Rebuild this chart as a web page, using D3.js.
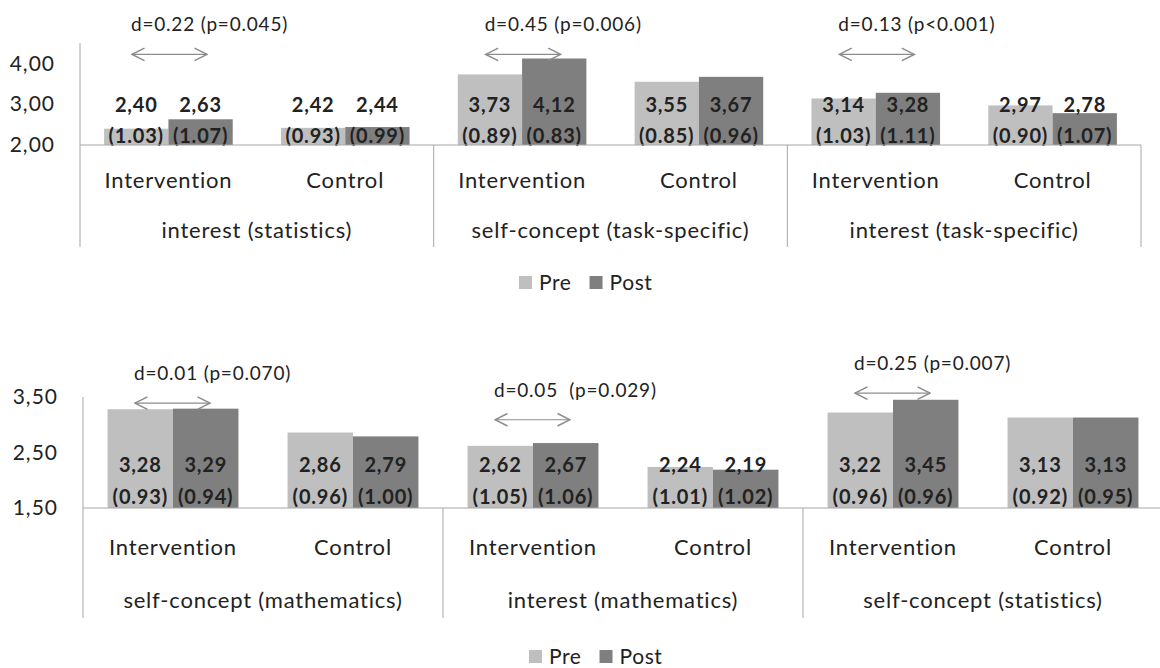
<!DOCTYPE html>
<html lang="en">
<head>
<meta charset="utf-8">
<title>Pre / Post means by condition</title>
<script src="https://cdn.jsdelivr.net/npm/d3@7"></script>
<style>
  body { margin: 0; background: #fff; }
  svg text { font-family: Lato, "Open Sans", sans-serif; fill: #222; }
</style>
</head>
<body>
<script>
// categories
var conditions = ['Intervention', 'Control'];
var series = ['Pre', 'Post'];
var groupsTop = ['interest (statistics)', 'self-concept (task-specific)', 'interest (task-specific)'];
var groupsBottom = ['self-concept (mathematics)', 'interest (mathematics)', 'self-concept (statistics)'];

// means and SDs, order: group1 Intervention, group1 Control, group2 Intervention, ...
var preTop = [2.40, 2.42, 3.73, 3.55, 3.14, 2.97];
var postTop = [2.63, 2.44, 4.12, 3.67, 3.28, 2.78];
var preSdTop = [1.03, 0.93, 0.89, 0.85, 1.03, 0.90];
var postSdTop = [1.07, 0.99, 0.83, 0.96, 1.11, 1.07];

var preBottom = [3.28, 2.86, 2.62, 2.24, 3.22, 3.13];
var postBottom = [3.29, 2.79, 2.67, 2.19, 3.45, 3.13];
var preSdBottom = [0.93, 0.96, 1.05, 1.01, 0.96, 0.92];
var postSdBottom = [0.94, 1.00, 1.06, 1.02, 0.96, 0.95];

// effect sizes (Intervention) and the value level where the arrow sits
var effectsTop = ['d=0.22 (p=0.045)', 'd=0.45 (p=0.006)', 'd=0.13 (p<0.001)'];
var effectsBottom = ['d=0.01 (p=0.070)', 'd=0.05  (p=0.029)', 'd=0.25 (p=0.007)'];
var arrowLevelTop = [4.22, 4.22, 4.22];
var arrowLevelBottom = [3.39, 3.09, 3.57];

var ticksTop = [2, 3, 4];
var ticksBottom = [1.5, 2.5, 3.5];

var colors = { Pre: '#bfbfbf', Post: '#7f7f7f' };
var axisColor = '#a6a6a6';

var w = 1160, h = 668;

var svg = d3.select('body').append('svg')
    .attr('width', w)
    .attr('height', h);

var defs = svg.append('defs');
['start', 'end'].forEach(function(k) {
    defs.append('marker')
        .attr('id', 'arr-' + k)
        .attr('viewBox', '0 0 12 12')
        .attr('refX', 11)
        .attr('refY', 6)
        .attr('markerWidth', 15)
        .attr('markerHeight', 15)
        .attr('markerUnits', 'userSpaceOnUse')
        .attr('orient', 'auto-start-reverse')
        .append('path')
        .attr('d', 'M1,1 L11,6 L1,11')
        .attr('fill', 'none')
        .attr('stroke', '#8c8c8c')
        .attr('stroke-width', 1.2);
});

var comma = function(v) { return d3.format('.2f')(v).replace('.', ','); };

function drawPanel(cfg) {
    var g = svg.append('g');

    var yScale = d3.scaleLinear()
        .domain(cfg.domain)
        .range([cfg.base, cfg.top]);

    var x0 = d3.scaleBand()
        .domain(cfg.groups)
        .range([cfg.left, cfg.right])
        .padding(0);

    var x1 = d3.scaleBand()
        .domain(conditions)
        .range([0, x0.bandwidth()])
        .padding(0);

    var x2 = d3.scaleBand()
        .domain(series)
        .range([0, x1.bandwidth()])
        .paddingInner(0)
        .paddingOuter(0.375);

    var rows = [];
    cfg.groups.forEach(function(grp, gi) {
        conditions.forEach(function(c, ci) {
            var i = gi * 2 + ci;
            rows.push({ group: grp, cond: c, s: 'Pre', v: cfg.pre[i], sd: cfg.preSd[i] });
            rows.push({ group: grp, cond: c, s: 'Post', v: cfg.post[i], sd: cfg.postSd[i] });
        });
    });

    var bx = function(d) { return x0(d.group) + x1(d.cond) + x2(d.s); };

    g.selectAll('rect.bar')
        .data(rows)
        .enter()
        .append('rect')
        .attr('class', 'bar')
        .attr('x', bx)
        .attr('width', x2.bandwidth())
        .attr('y', function(d) { return yScale(d.v); })
        .attr('height', function(d) { return cfg.base - yScale(d.v); })
        .attr('fill', function(d) { return colors[d.s]; });

    // value labels
    g.selectAll('text.val')
        .data(rows)
        .enter()
        .append('text')
        .attr('class', 'val')
        .attr('x', function(d) { return bx(d) + x2.bandwidth() / 2; })
        .attr('y', cfg.base + cfg.valY)
        .attr('text-anchor', 'middle')
        .attr('font-weight', 'bold')
        .attr('font-size', '20px')
        .attr('letter-spacing', '0.8px')
        .text(function(d) { return comma(d.v); });

    g.selectAll('text.sd')
        .data(rows)
        .enter()
        .append('text')
        .attr('class', 'sd')
        .attr('x', function(d) { return bx(d) + x2.bandwidth() / 2; })
        .attr('y', cfg.base + cfg.sdY)
        .attr('text-anchor', 'middle')
        .attr('font-weight', 'bold')
        .attr('font-size', '20px')
        .attr('letter-spacing', '0.8px')
        .text(function(d) { return '(' + d.sd.toFixed(2) + ')'; });

    // baseline and dividers
    g.append('line')
        .attr('x1', cfg.left).attr('x2', cfg.right)
        .attr('y1', cfg.base).attr('y2', cfg.base)
        .attr('stroke', axisColor);

    g.append('line')
        .attr('x1', cfg.left).attr('x2', cfg.left)
        .attr('y1', yScale(cfg.domain[1])).attr('y2', cfg.base + cfg.divider)
        .attr('stroke', axisColor);

    g.selectAll('line.div')
        .data(cfg.groups)
        .enter()
        .append('line')
        .attr('class', 'div')
        .attr('x1', function(d) { return x0(d) + x0.bandwidth(); })
        .attr('x2', function(d) { return x0(d) + x0.bandwidth(); })
        .attr('y1', cfg.base)
        .attr('y2', cfg.base + cfg.divider)
        .attr('stroke', axisColor);

    // y axis labels
    var yAxis = d3.axisLeft(yScale)
        .tickValues(cfg.ticks)
        .tickSize(0)
        .tickPadding(25)
        .tickFormat(comma);

    var ya = g.append('g')
        .attr('transform', 'translate(' + cfg.left + ',0)')
        .call(yAxis);
    ya.select('.domain').remove();
    ya.attr('font-family', null).attr('font-size', null);
    ya.selectAll('text')
        .attr('font-size', '21px')
        .attr('letter-spacing', '1px')
        .attr('fill', null);

    // condition labels
    var cats = [];
    cfg.groups.forEach(function(grp) {
        conditions.forEach(function(c) { cats.push({ group: grp, cond: c }); });
    });
    g.selectAll('text.cond')
        .data(cats)
        .enter()
        .append('text')
        .attr('class', 'cond')
        .attr('x', function(d) { return x0(d.group) + x1(d.cond) + x1.bandwidth() / 2; })
        .attr('y', cfg.base + cfg.condY)
        .attr('text-anchor', 'middle')
        .attr('font-size', '22px')
        .attr('letter-spacing', '0.8px')
        .text(function(d) { return d.cond; });

    g.selectAll('text.grp')
        .data(cfg.groups)
        .enter()
        .append('text')
        .attr('class', 'grp')
        .attr('x', function(d) { return x0(d) + x0.bandwidth() / 2; })
        .attr('y', cfg.base + cfg.grpY)
        .attr('text-anchor', 'middle')
        .attr('font-size', '22px')
        .attr('letter-spacing', '0.8px')
        .text(function(d) { return d; });

    // effect annotations
    cfg.groups.forEach(function(grp, gi) {
        var ax = x0(grp) + 52;
        var ay = yScale(cfg.levels[gi]);
        g.append('line')
            .attr('x1', ax).attr('x2', ax + 75)
            .attr('y1', ay).attr('y2', ay)
            .attr('stroke', '#8c8c8c')
            .attr('stroke-width', 1.2)
            .attr('marker-start', 'url(#arr-start)')
            .attr('marker-end', 'url(#arr-end)');
        g.append('text')
            .attr('x', ax - 1)
            .attr('y', ay - 23)
            .attr('font-size', '19px')
            .attr('letter-spacing', '0.8px')
            .style('white-space', 'pre')
            .attr('fill', '#333')
            .text(cfg.effects[gi]);
    });

    // legend
    var lg = g.append('g')
        .attr('transform', 'translate(' + cfg.legendX + ',' + cfg.legendY + ')');
    var lx = 0;
    series.forEach(function(s) {
        lg.append('rect')
            .attr('x', lx).attr('y', -7)
            .attr('width', 13).attr('height', 13)
            .attr('fill', colors[s]);
        var t = lg.append('text')
            .attr('x', lx + 20)
            .attr('y', 7)
            .attr('font-size', '21px')
            .attr('letter-spacing', '0.6px')
            .text(s);
        lx += 20 + t.node().getComputedTextLength() + 18;
    });
}

drawPanel({
    groups: groupsTop,
    pre: preTop, post: postTop, preSd: preSdTop, postSd: postSdTop,
    effects: effectsTop, levels: arrowLevelTop,
    ticks: ticksTop, domain: [2, 4.5],
    left: 80, right: 1141, base: 145, top: 43,
    divider: 102, condY: 43, grpY: 93, valY: -33, sdY: -2,
    legendX: 519, legendY: 283
});

drawPanel({
    groups: groupsBottom,
    pre: preBottom, post: postBottom, preSd: preSdBottom, postSd: postSdBottom,
    effects: effectsBottom, levels: arrowLevelBottom,
    ticks: ticksBottom, domain: [1.5, 3.5],
    left: 83, right: 1163, base: 508, top: 397,
    divider: 110, condY: 47, grpY: 100, valY: -36, sdY: -4,
    legendX: 529, legendY: 657
});
</script>
</body>
</html>
